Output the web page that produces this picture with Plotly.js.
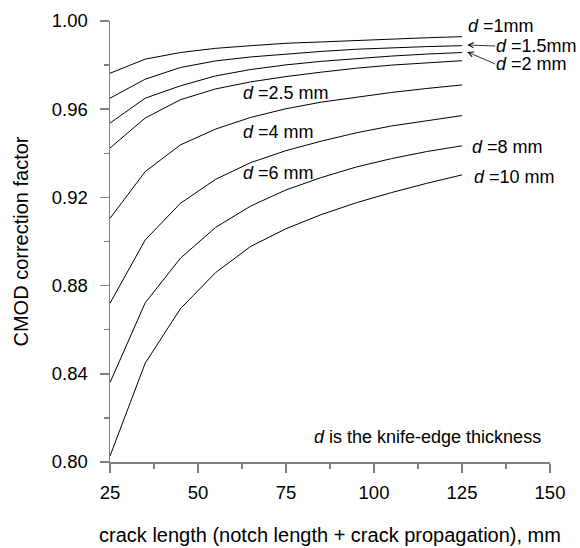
<!DOCTYPE html>
<html>
<head>
<meta charset="utf-8">
<script src="https://cdn.plot.ly/plotly-3.0.1.min.js"></script>
<style>html,body{margin:0;padding:0;background:#fff;}#chart{width:580px;height:548px;}</style>
</head>
<body>
<div id="chart"></div>
<script>
// crack length, mm
var crackLength = [25, 35, 45, 55, 65, 75, 85, 95, 105, 115, 125];
// CMOD correction factor for each knife-edge thickness d
var d1mm   = [0.9763, 0.9827, 0.9857, 0.9876, 0.9888, 0.9899, 0.9905, 0.9912, 0.9918, 0.9924, 0.9929];
var d1p5mm = [0.9650, 0.9736, 0.9789, 0.9819, 0.9837, 0.9851, 0.9862, 0.9872, 0.9879, 0.9884, 0.9888];
var d2mm   = [0.9537, 0.9650, 0.9706, 0.9751, 0.9780, 0.9801, 0.9817, 0.9830, 0.9841, 0.9850, 0.9857];
var d2p5mm = [0.9424, 0.9560, 0.9643, 0.9692, 0.9724, 0.9748, 0.9768, 0.9786, 0.9800, 0.9811, 0.9820];
var d4mm   = [0.9105, 0.9317, 0.9438, 0.9510, 0.9563, 0.9602, 0.9632, 0.9655, 0.9676, 0.9694, 0.9710];
var d6mm   = [0.8720, 0.9007, 0.9173, 0.9282, 0.9358, 0.9412, 0.9455, 0.9493, 0.9524, 0.9549, 0.9571];
var d8mm   = [0.8360, 0.8722, 0.8924, 0.9064, 0.9161, 0.9234, 0.9290, 0.9338, 0.9376, 0.9408, 0.9434];
var d10mm  = [0.8027, 0.8448, 0.8695, 0.8859, 0.8978, 0.9058, 0.9122, 0.9176, 0.9222, 0.9264, 0.9302];

var seriesNames = ['d=1mm', 'd=1.5mm', 'd=2mm', 'd=2.5mm', 'd=4mm', 'd=6mm', 'd=8mm', 'd=10mm'];
var seriesValues = [d1mm, d1p5mm, d2mm, d2p5mm, d4mm, d6mm, d8mm, d10mm];

var xTickVals = [25, 50, 75, 100, 125, 150];
var yTickVals = [0.80, 0.84, 0.88, 0.92, 0.96, 1.00];

var FONT = 'Liberation Sans, Arial, sans-serif';
var AXIS_GRAY = '#808080';
var TICK = 18.5, TXT = 18, TITLE = 20;

var traces = seriesValues.map(function (vals, i) {
  return {
    x: crackLength, y: vals, name: seriesNames[i],
    type: 'scatter', mode: 'lines',
    line: {color: '#000000', width: 1},
    hoverinfo: 'x+y+name'
  };
});

function lbl(text, x, y, anchor) {
  return {text: text, x: x, y: y, xref: 'x', yref: 'y', xanchor: anchor || 'left', yanchor: 'middle',
          showarrow: false, borderpad: 0, font: {family: FONT, size: TXT, color: '#000'}};
}
function arrowLbl(text, x, y, ax, ay) {
  return {text: text, x: x, y: y, xref: 'x', yref: 'y', ax: ax, ay: ay,
          showarrow: true, arrowhead: 5, arrowsize: 1.3, arrowwidth: 0.8, arrowcolor: '#000',
          standoff: 0, borderpad: 0, xanchor: 'left', yanchor: 'middle',
          font: {family: FONT, size: TXT, color: '#000'}};
}

var layout = {
  width: 580, height: 548,
  margin: {l: 110, r: 30, t: 21, b: 86, pad: 0},
  paper_bgcolor: '#fff', plot_bgcolor: '#fff',
  showlegend: false,
  font: {family: FONT, size: TXT, color: '#000'},
  xaxis: {
    range: [25, 150], tickvals: xTickVals, ticktext: xTickVals.map(String),
    showgrid: false, zeroline: false,
    showline: true, linecolor: AXIS_GRAY, linewidth: 1.5,
    ticks: 'outside', ticklen: 9, tickwidth: 1.5, tickcolor: AXIS_GRAY,
    ticklabelstandoff: 4,
    minor: {dtick: 12.5, tick0: 25, ticks: 'outside', ticklen: 5, tickwidth: 1.5, tickcolor: AXIS_GRAY, showgrid: false},
    tickfont: {family: FONT, size: TICK, color: '#000'},
    title: {text: 'crack length (notch length + crack propagation), mm', font: {family: FONT, size: TITLE, color: '#000'}, standoff: 26},
    automargin: false
  },
  yaxis: {
    range: [0.80, 1.00], tickvals: yTickVals, ticktext: yTickVals.map(function (v) { return v.toFixed(2); }),
    showgrid: false, zeroline: false,
    showline: true, linecolor: AXIS_GRAY, linewidth: 1.5,
    ticks: 'outside', ticklen: 9, tickwidth: 1.5, tickcolor: AXIS_GRAY,
    ticklabelstandoff: 8,
    minor: {dtick: 0.02, tick0: 0.8, ticks: 'outside', ticklen: 5, tickwidth: 1.5, tickcolor: AXIS_GRAY, showgrid: false},
    tickfont: {family: FONT, size: TICK, color: '#000'},
    title: {text: 'CMOD correction factor', font: {family: FONT, size: TITLE, color: '#000'}, standoff: 18},
    automargin: false
  },
  annotations: [
    lbl('<i>d</i> =1mm', 126.5, 0.99775),
    arrowLbl('<i>d</i> =1.5mm', 126.5, 0.98912, 28, 1),
    arrowLbl('<i>d</i> =2 mm', 126.5, 0.98595, 28, 12),
    lbl('<i>d</i> =2.5 mm', 62.4, 0.96735),
    lbl('<i>d</i> =4 mm', 62.4, 0.94966),
    lbl('<i>d</i> =6 mm', 62.4, 0.93107),
    lbl('<i>d</i> =8 mm', 127.6, 0.94286),
    lbl('<i>d</i> =10 mm', 128.2, 0.92925),
    lbl('<i>d</i> is the knife-edge thickness', 147.7, 0.81147, 'right')
  ]
};

Plotly.newPlot('chart', traces, layout, {displayModeBar: false, staticPlot: true});
</script>
</body>
</html>
